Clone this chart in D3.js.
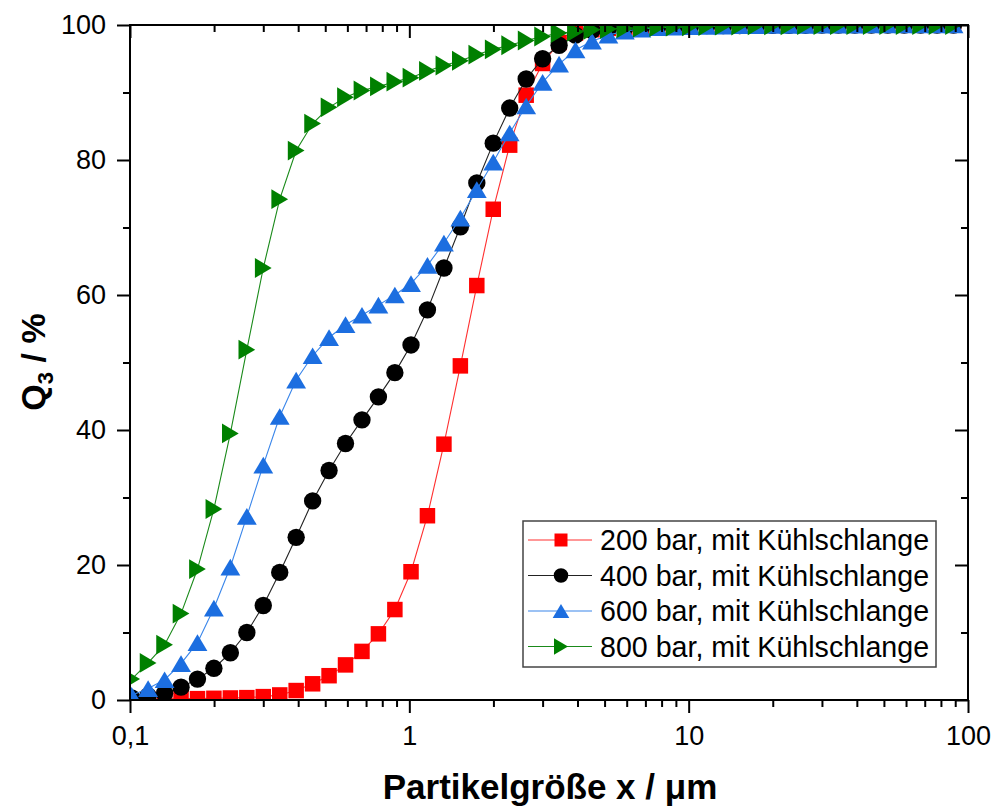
<!DOCTYPE html>
<html>
<head>
<meta charset="utf-8">
<script src="https://cdn.jsdelivr.net/npm/d3@7"></script>
<style>
  html, body { margin: 0; padding: 0; background: #fff; }
  svg { display: block; }
  text { font-family: "Liberation Sans", Arial, sans-serif; }
</style>
</head>
<body>
<svg id="chart" width="995" height="810"></svg>
<script>
// Particle size grid (µm)
const sizes = [0.1014, 0.1161, 0.1330, 0.1523, 0.1744, 0.1997, 0.2287, 0.2620, 0.3000, 0.3436,
  0.3934, 0.4506, 0.5160, 0.5909, 0.6768, 0.7750, 0.8876, 1.014, 1.161, 1.330,
  1.523, 1.744, 1.997, 2.287, 2.620, 3.000, 3.436, 3.934, 4.506, 5.160,
  5.909, 6.768, 7.750, 8.876, 10.14, 11.61, 13.30, 15.23, 17.44, 19.97,
  22.87, 26.20, 30.00, 34.36, 39.34, 45.06, 51.60, 59.09, 67.68, 77.50, 88.76];

const q200 = [null, 0.1, 0.15, 0.2, 0.2, 0.25, 0.3, 0.35, 0.5, 0.75,
  1.4, 2.4, 3.6, 5.2, 7.2, 9.8, 13.4, 19.0, 27.3, 37.9,
  49.5, 61.4, 72.7, 82.2, 89.6, 94.3, 97.4, 98.8, 99.3, 99.5,
  99.6, 99.7, 99.75, 99.8, 99.85, 99.9, 99.9, 99.92, 99.94, 99.95,
  99.96, 99.97, 99.98, 99.98, 99.99, 100, 100, 100, 100, 100, 100];

const q400 = [0.3, 0.6, 1.0, 1.9, 3.1, 4.7, 7.0, 10.0, 14.0, 18.9,
  24.1, 29.5, 34.0, 38.0, 41.5, 44.9, 48.5, 52.6, 57.8, 64.0,
  70.1, 76.6, 82.5, 87.7, 92.0, 95.0, 97.0, 98.5, 99.2, 99.5,
  99.6, 99.7, 99.75, 99.8, 99.85, 99.9, 99.9, 99.92, 99.94, 99.95,
  99.96, 99.97, 99.98, 99.98, 99.99, 100, 100, 100, 100, 100, 100];

const q600 = [0.7, 1.7, 3.0, 5.4, 8.5, 13.6, 19.7, 27.2, 34.8, 42.0,
  47.4, 51.0, 53.7, 55.6, 57.0, 58.5, 60.0, 61.7, 64.4, 67.7,
  71.4, 75.6, 79.7, 84.0, 88.0, 91.5, 94.2, 96.3, 97.6, 98.5,
  99.1, 99.4, 99.6, 99.7, 99.75, 99.8, 99.85, 99.9, 99.92, 99.94,
  99.95, 99.96, 99.97, 99.98, 99.99, 100, 100, 100, 100, 100, 100];

const q800 = [3.1, 5.5, 8.2, 12.8, 19.4, 28.3, 39.5, 51.9, 64.0, 74.2,
  81.4, 85.4, 87.8, 89.3, 90.3, 90.9, 91.6, 92.2, 93.2, 94.0,
  94.7, 95.6, 96.4, 97.0, 97.7, 98.3, 98.8, 99.0, 99.3, 99.4,
  99.5, 99.6, 99.7, 99.75, 99.8, 99.85, 99.9, 99.92, 99.94, 99.95,
  99.96, 99.97, 99.98, 99.98, 99.99, 100, 100, 100, 100, 100, 100];

const seriesNames = ["200 bar, mit Kühlschlange", "400 bar, mit Kühlschlange",
  "600 bar, mit Kühlschlange", "800 bar, mit Kühlschlange"];
const seriesColors = ["#ff0000", "#000000", "#1c6ee0", "#008000"];
const lineColors = ["#ff3030", "#222222", "#3a86ea", "#1a8a1a"];
const seriesShapes = ["square", "circle", "triUp", "triRight"];
const seriesData = [q200, q400, q600, q800];

const xTickValues = [0.1, 1, 10, 100];
const xTickLabels = ["0,1", "1", "10", "100"];
const yTickValues = [0, 20, 40, 60, 80, 100];

const xTitle = "Partikelgröße x / μm";

// ---- layout ----
const L = 130, R = 968, T = 25, B = 700;
const svg = d3.select("#chart");
const x = d3.scaleLog().domain([0.1, 100]).range([L, R]);
const y = d3.scaleLinear().domain([0, 100]).range([B, T]);

const xMinor = [];
[0.1, 1, 10].forEach(d => { for (let m = 2; m <= 9; m++) xMinor.push(+(d * m).toPrecision(3)); });
const yMinor = [10, 30, 50, 70, 90];

svg.append("defs").append("clipPath").attr("id", "plotclip")
  .append("rect").attr("x", L).attr("y", T).attr("width", R - L).attr("height", B - T);

function shapePath(shape, s) {
  if (shape === "square") { const h = s * 0.5; return `M${-h},${-h}H${h}V${h}H${-h}Z`; }
  if (shape === "circle") { const r = s * 0.56; return `M${r},0A${r},${r} 0 1,1 ${-r},0A${r},${r} 0 1,1 ${r},0Z`; }
  if (shape === "triUp") { const w = s * 0.64, h = s * 0.54; return `M0,${-h}L${w},${h}L${-w},${h}Z`; }
  if (shape === "triRight") { const w = s * 0.54, h = s * 0.64; return `M${w},0L${-w},${h}L${-w},${-h}Z`; }
}

const plot = svg.append("g").attr("clip-path", "url(#plotclip)");
const line = d3.line().defined(d => d[1] !== null).x(d => x(d[0])).y(d => y(d[1]));

seriesData.forEach((vals, i) => {
  const pts = sizes.map((s, k) => [s, vals[k]]);
  const g = plot.append("g");
  g.append("path").datum(pts).attr("d", line)
    .attr("fill", "none").attr("stroke", lineColors[i]).attr("stroke-width", 1.1);
  g.selectAll("path.m").data(pts.filter(d => d[1] !== null)).join("path")
    .attr("class", "m")
    .attr("transform", d => `translate(${x(d[0])},${y(d[1])})`)
    .attr("d", shapePath(seriesShapes[i], 15.5))
    .attr("fill", seriesColors[i]);
});

// ---- axes ----
const fs = 27;
function styleAxis(g) {
  g.select(".domain").remove();
  g.selectAll(".tick line").attr("stroke", "#000").attr("stroke-width", 2);
  g.selectAll(".tick text").attr("font-size", fs).attr("fill", "#000")
    .attr("font-family", '"Liberation Sans", Arial, sans-serif');
}

svg.append("g").attr("transform", `translate(0,${B})`)
  .call(d3.axisBottom(x).tickValues(xTickValues).tickSize(13).tickPadding(13)
    .tickFormat((d, i) => xTickLabels[i])).call(styleAxis);
svg.append("g").attr("transform", `translate(0,${B})`)
  .call(d3.axisBottom(x).tickValues(xMinor).tickSize(7).tickFormat("")).call(styleAxis);
svg.append("g").attr("transform", `translate(0,${T})`)
  .call(d3.axisTop(x).tickValues(xTickValues).tickSize(-13).tickFormat("")).call(styleAxis);
svg.append("g").attr("transform", `translate(0,${T})`)
  .call(d3.axisTop(x).tickValues(xMinor).tickSize(-7).tickFormat("")).call(styleAxis);

svg.append("g").attr("transform", `translate(${L},0)`)
  .call(d3.axisLeft(y).tickValues(yTickValues).tickSize(13).tickPadding(11)).call(styleAxis);
svg.append("g").attr("transform", `translate(${L},0)`)
  .call(d3.axisLeft(y).tickValues(yMinor).tickSize(7).tickFormat("")).call(styleAxis);
svg.append("g").attr("transform", `translate(${R},0)`)
  .call(d3.axisRight(y).tickValues(yTickValues).tickSize(-13).tickFormat("")).call(styleAxis);
svg.append("g").attr("transform", `translate(${R},0)`)
  .call(d3.axisRight(y).tickValues(yMinor).tickSize(-7).tickFormat("")).call(styleAxis);

svg.append("rect").attr("x", L).attr("y", T).attr("width", R - L).attr("height", B - T)
  .attr("fill", "none").attr("stroke", "#000").attr("stroke-width", 2);

// ---- titles ----
svg.append("text").attr("x", (L + R) / 2 + 1).attr("y", 799).attr("text-anchor", "middle")
  .attr("font-size", 35).attr("font-weight", "bold").text(xTitle);

const yt = svg.append("text").attr("transform", "translate(45,362) rotate(-90)")
  .attr("text-anchor", "middle").attr("font-size", 34).attr("font-weight", "bold");
yt.append("tspan").text("Q");
yt.append("tspan").attr("font-size", 22).attr("dy", 8).text("3");
yt.append("tspan").attr("dy", -8).text(" / %");

// ---- legend ----
const lg = svg.append("g");
lg.append("rect").attr("x", 523).attr("y", 521).attr("width", 413).attr("height", 146)
  .attr("fill", "#fff").attr("stroke", "#444").attr("stroke-width", 1.5);
seriesNames.forEach((name, i) => {
  const cy = 540 + i * 35.5;
  lg.append("line").attr("x1", 528).attr("x2", 592).attr("y1", cy).attr("y2", cy)
    .attr("stroke", lineColors[i]).attr("stroke-width", 1.1);
  lg.append("path").attr("transform", `translate(561,${cy})`)
    .attr("d", shapePath(seriesShapes[i], 13)).attr("fill", seriesColors[i]);
  lg.append("text").attr("x", 600).attr("y", cy).attr("dy", "0.36em")
    .attr("font-size", 28.6).attr("fill", "#000").text(name);
});
</script>
</body>
</html>
